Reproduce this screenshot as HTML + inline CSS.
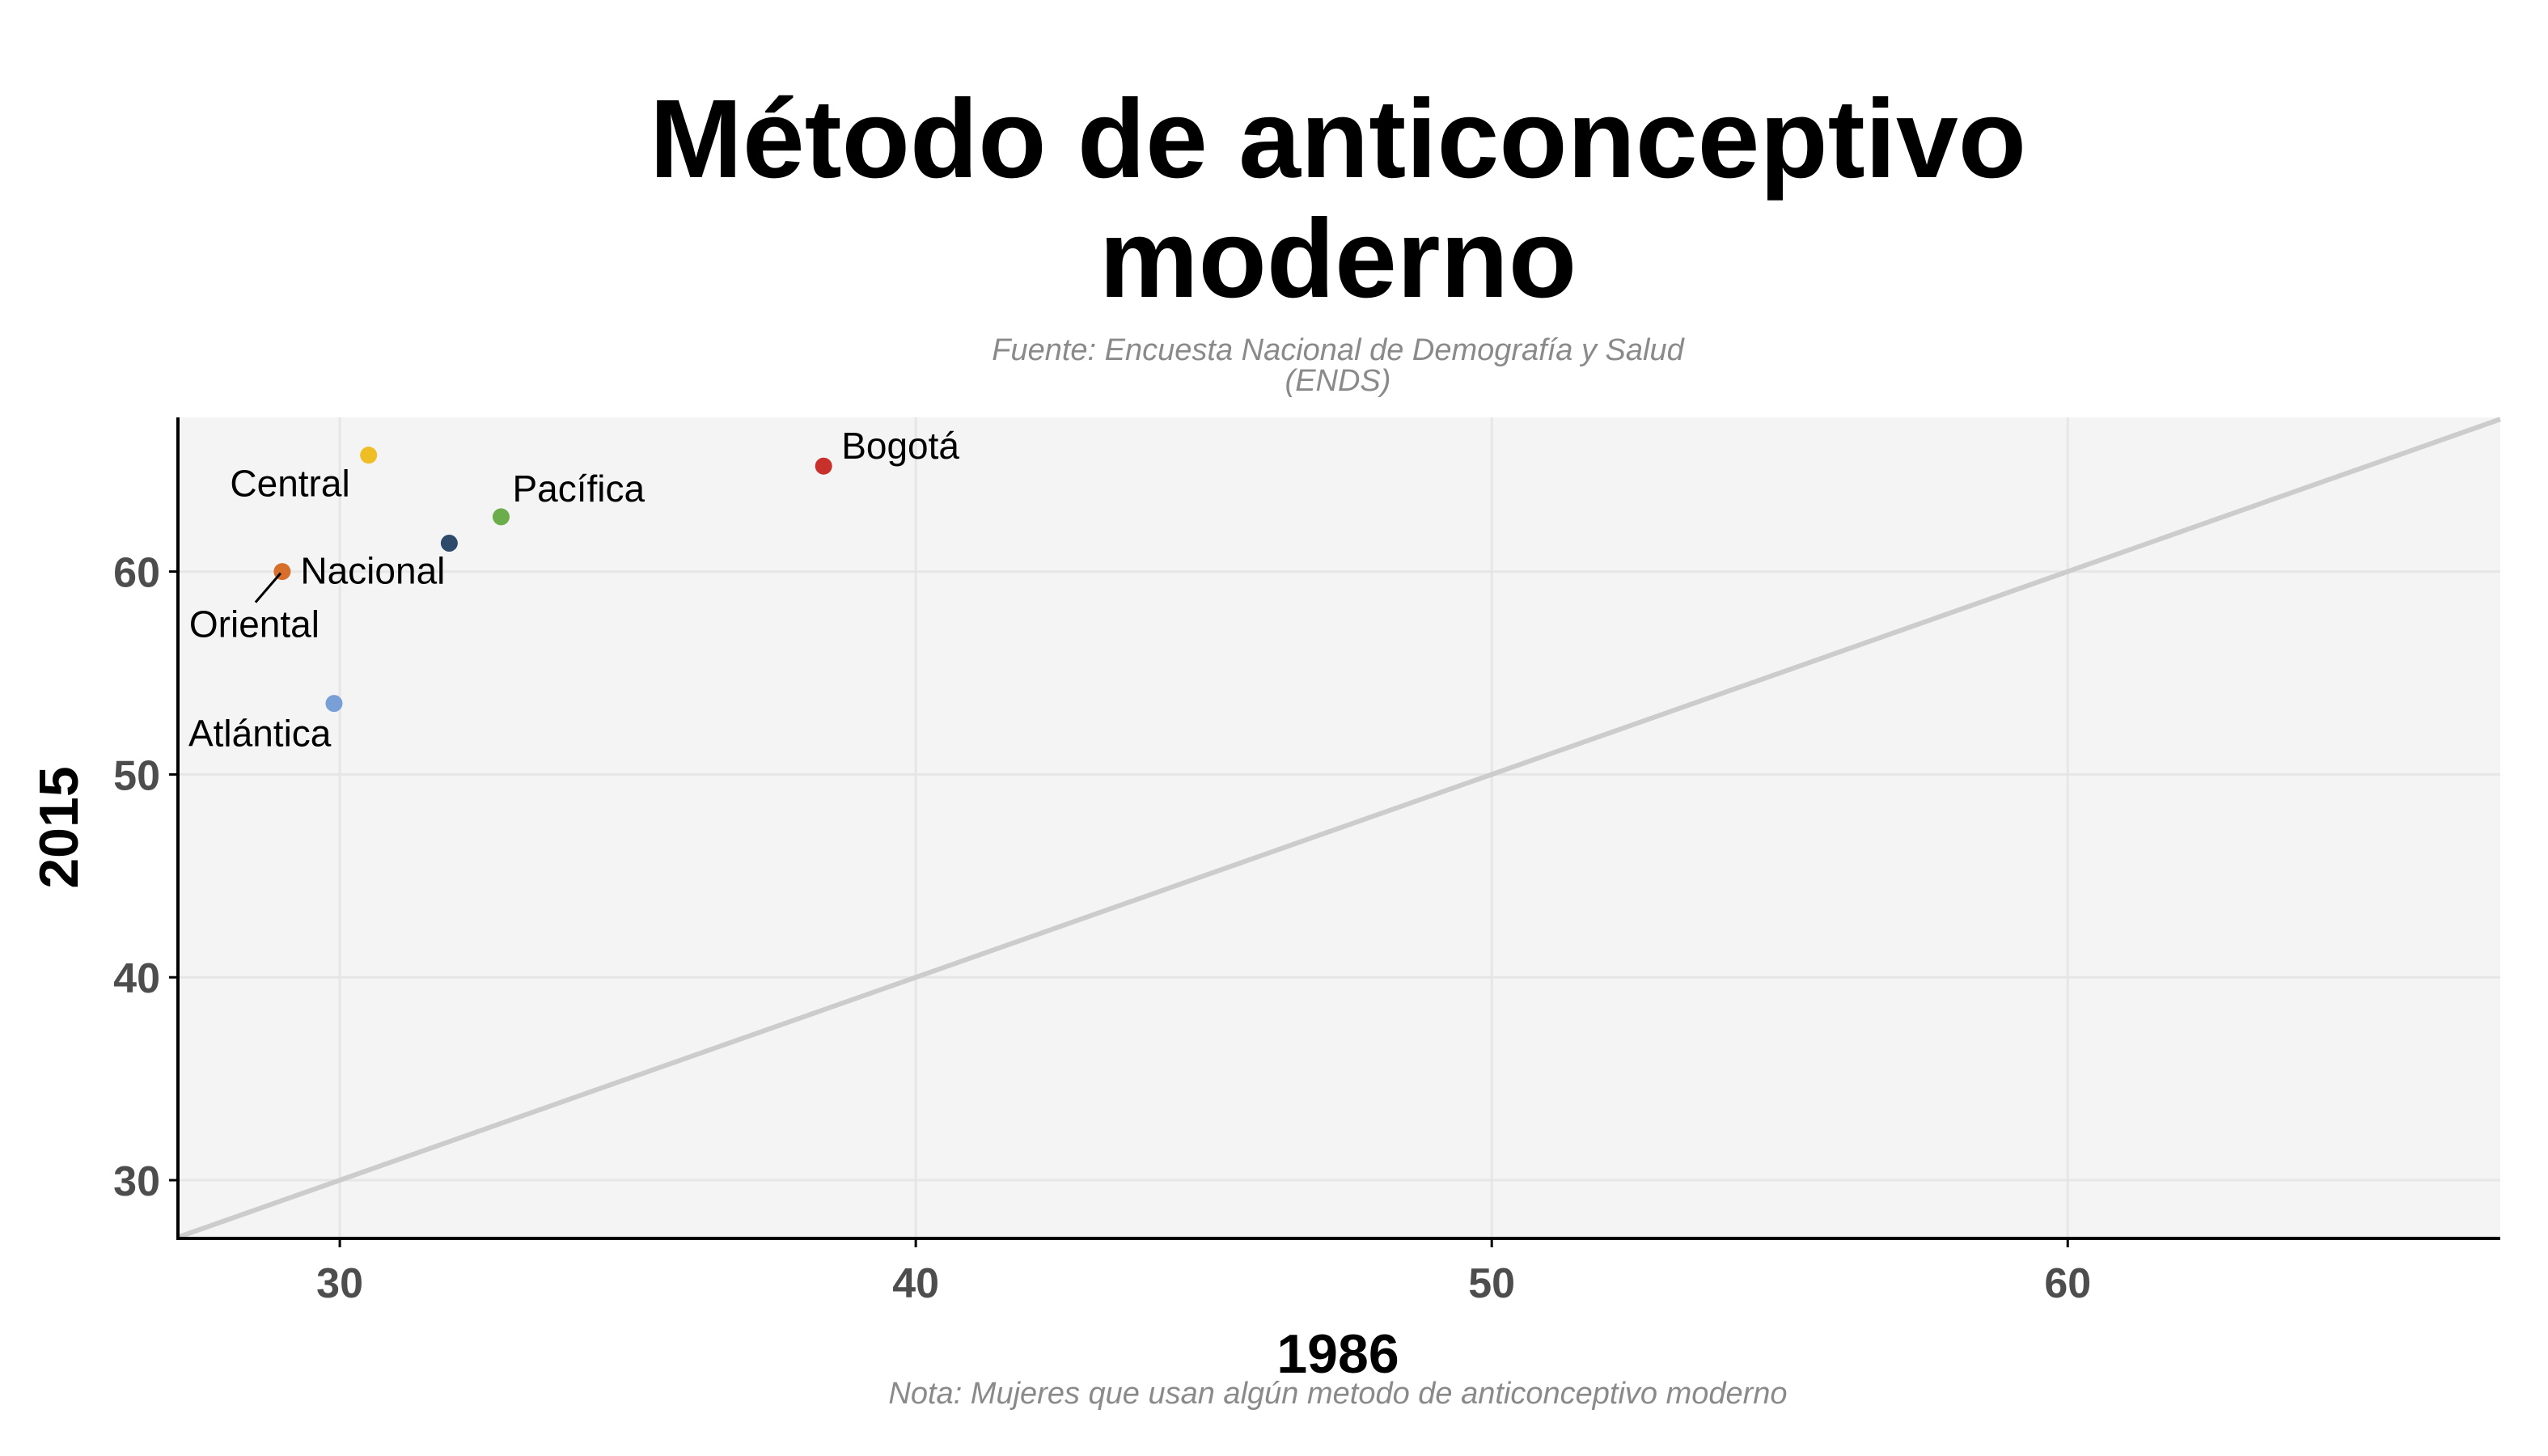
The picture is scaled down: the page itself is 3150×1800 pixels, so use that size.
<!DOCTYPE html>
<html><head><meta charset="utf-8"><style>
html,body{margin:0;padding:0;background:#fff;}
svg{display:block;font-family:"Liberation Sans",Arial,sans-serif;}
</style></head><body>
<svg id="chart" width="3150" height="1800" viewBox="0 0 3150 1800" xmlns="http://www.w3.org/2000/svg">
<rect width="3150" height="1800" fill="#ffffff"/>
<text x="1654" y="219" text-anchor="middle" font-size="138" font-weight="bold" fill="#000">Método de anticonceptivo</text>
<text x="1654" y="367" text-anchor="middle" font-size="138" font-weight="bold" fill="#000">moderno</text>
<text x="1654" y="445" text-anchor="middle" font-size="38" font-style="italic" fill="#8a8a8a">Fuente: Encuesta Nacional de Demografía y Salud</text>
<text x="1654" y="483" text-anchor="middle" font-size="38" font-style="italic" fill="#8a8a8a">(ENDS)</text>
<g id="plot"></g>
<text x="1654" y="1697" text-anchor="middle" font-size="68" font-weight="bold" fill="#000">1986</text>
<text transform="translate(96,1023) rotate(-90)" text-anchor="middle" font-size="68" font-weight="bold" fill="#000">2015</text>
<text x="1654" y="1735" text-anchor="middle" font-size="38" font-style="italic" fill="#8a8a8a">Nota: Mujeres que usan algún metodo de anticonceptivo moderno</text>
</svg>
<script>
const regions = ["Central","Bogotá","Pacífica","Nacional","Oriental","Atlántica"];
const values1986 = [30.5, 38.4, 32.8, 31.9, 29.0, 29.9];
const values2015 = [65.74, 65.2, 62.7, 61.4, 60.0, 53.5];
const xTicks = [30, 40, 50, 60];
const yTicks = [30, 40, 50, 60];
const colors = ["#EFBE25","#C8312B","#6BAD4B","#2E4A6B","#D66F2C","#789FD6"];

const L=220,R=3091,T=516,B=1531;
const xMin=27.19,xMax=67.51,yMin=27.13,yMax=67.6;
const sx=v=>L+(v-xMin)/(xMax-xMin)*(R-L);
const sy=v=>B-(v-yMin)/(yMax-yMin)*(B-T);
const NS="http://www.w3.org/2000/svg";
const g=document.getElementById('plot');
function mk(tag,attrs,parent){const e=document.createElementNS(NS,tag);for(const k in attrs)e.setAttribute(k,attrs[k]);(parent||g).appendChild(e);return e;}

const bg=mk('rect',{x:L,y:T,width:R-L,height:B-T,fill:'#f4f4f4'});


xTicks.forEach(t=>{
  const ln=mk('line',{x1:sx(t),x2:sx(t),y1:T,y2:B,stroke:'#e6e6e6','stroke-width':3});
  
  
  const tk=mk('line',{x1:sx(t),x2:sx(t),y1:B,y2:B+11,stroke:'#000','stroke-width':3});
  
  
  const tx=mk('text',{x:sx(t),y:1604,'text-anchor':'middle','font-size':52,'font-weight':'bold',fill:'#4d4d4d'});
  tx.textContent=t;
  
  
});
yTicks.forEach(t=>{
  const ln=mk('line',{x1:L,x2:R,y1:sy(t),y2:sy(t),stroke:'#e6e6e6','stroke-width':3});
  
  
  const tk=mk('line',{x1:L-11,x2:L,y1:sy(t),y2:sy(t),stroke:'#000','stroke-width':3});
  
  
  const tx=mk('text',{x:198,y:sy(t)+19,'text-anchor':'end','font-size':52,'font-weight':'bold',fill:'#4d4d4d'});
  tx.textContent=t;
  
  
});
const d0=Math.max(xMin,yMin), d1=Math.min(xMax,yMax);
const diag=mk('line',{x1:sx(d0),y1:sy(d0),x2:sx(d1),y2:sy(d1),stroke:'#cccccc','stroke-width':6});


const ax=mk('line',{x1:L,x2:R,y1:B,y2:B,stroke:'#000','stroke-width':4});


const ay=mk('line',{x1:L,x2:L,y1:T,y2:B+2,stroke:'#000','stroke-width':4});



// label offsets relative to each point: dx, dy (to baseline), anchor
const labelOffsets=[[-23,51,'end'],[22,-9,'start'],[14,-19,'start'],[-184,50,'start'],[-115,81,'start'],[-180,53,'start']];
regions.forEach((r,i)=>{
  const cx=sx(values1986[i]), cy=sy(values2015[i]);
  const c=mk('circle',{cx:cx,cy:cy,r:10.5,fill:colors[i]});
  
  
  const o=labelOffsets[i];
  const t=mk('text',{x:cx+o[0],y:cy+o[1],'text-anchor':o[2],'font-size':46,fill:'#000'});
  t.textContent=r;
  
  
  if(r==="Oriental"){
    const s=mk('line',{x1:cx-2,y1:cy+2,x2:cx-33,y2:cy+38,stroke:'#000','stroke-width':3});
    
    
  }
});
</script>
</body></html>
